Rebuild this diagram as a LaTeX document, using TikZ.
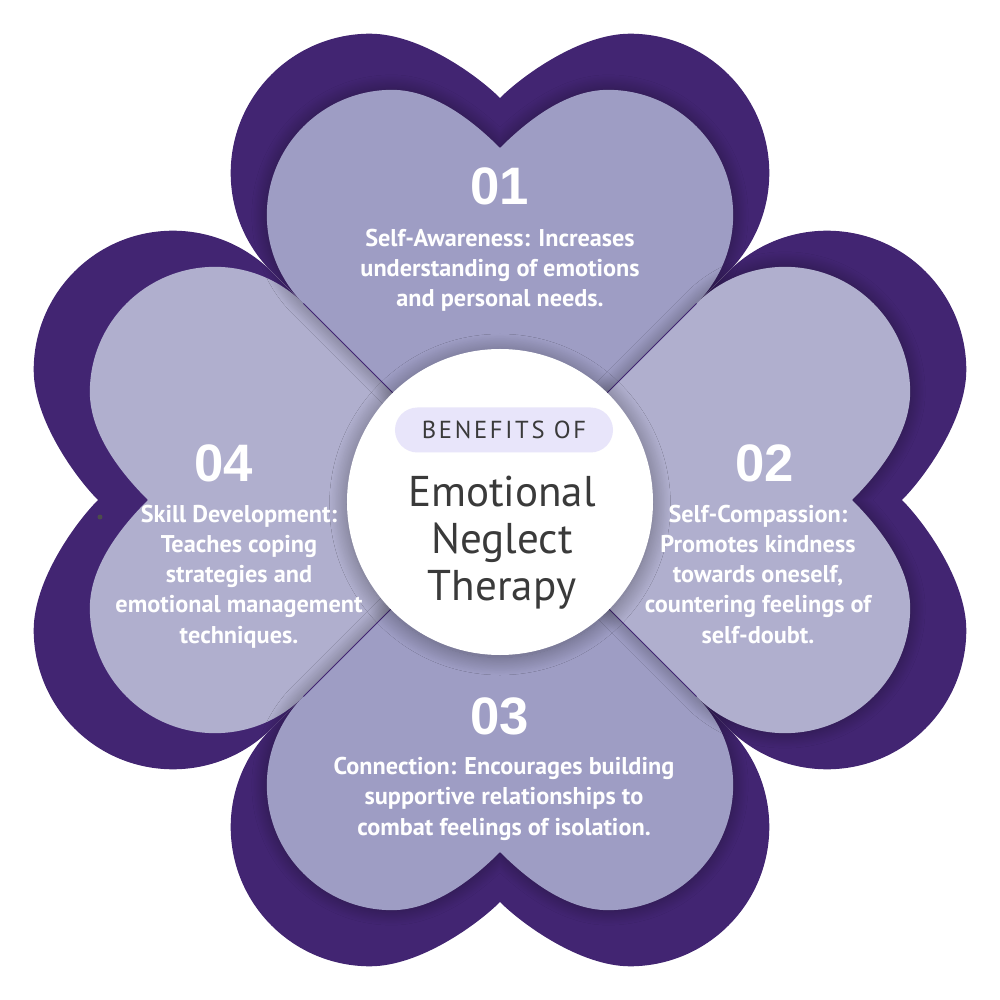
\documentclass[tikz,border=0pt]{standalone}
\usepackage{fontspec}
\setmainfont{PT Sans}
\newfontfamily\numfont{Liberation Sans}
\usetikzlibrary{shadows.blur}

\definecolor{petaldark}{RGB}{66,37,114}
\definecolor{petalmid}{RGB}{158,157,196}
\definecolor{petallight}{RGB}{176,175,206}
\definecolor{pillfill}{RGB}{232,229,250}
\definecolor{coretext}{RGB}{58,58,58}

% heart with its tip at the origin: lobe offset, lobe height, cleft, handle
\newcommand{\heartshape}[4]{%
  (0,0) -- ({-(#1+#2)/2},{(#1+#2)/2})
  arc[start angle=225, end angle=90, radius={(#2-#1)/sqrt(2)}]
  .. controls +(#4,0) and +(-22,22) .. (0,#3)
  .. controls +(22,22) and +(-#4,0) .. (#1,{#2+(#2-#1)/sqrt(2)})
  arc[start angle=90, end angle=-45, radius={(#2-#1)/sqrt(2)}]
  -- cycle}

\tikzstyle{outer} = [fill=petaldark]
\tikzstyle{dropshadow} = [blur shadow={shadow xshift=0pt, shadow yshift=0pt, shadow blur radius=3mm, shadow blur steps=20, shadow opacity=40}]
\tikzstyle{numlabel} = [text=white, inner sep=0pt, font=\numfont\bfseries\fontsize{30}{30}\selectfont]
\tikzstyle{petaltext} = [text=white, inner sep=0pt, align=center, anchor=base, font=\bfseries\fontsize{13.8}{17.1}\selectfont]

\begin{document}
\begin{tikzpicture}[x=0.2mm, y=0.2mm]
    \useasboundingbox (-500,-500) rectangle (500,500);

    % dark backing hearts
    \foreach \ang in {0,-90,180,90}
        \fill[outer, rotate=\ang] \heartshape{130}{327}{402}{50};

    % light petals
    \fill[fill=petallight, rotate=90] \heartshape{108}{285}{352}{45};
    \fill[fill=petalmid, dropshadow] \heartshape{108}{285}{352}{45};
    \fill[fill=petalmid, dropshadow, rotate=180] \heartshape{108}{285}{352}{45};
    \fill[fill=petallight, dropshadow, rotate=-90] \heartshape{108}{285}{352}{45};

    \foreach \ang in {45,135,225,315}
        \draw[petaldark, line width=0.5pt] (0,0) -- (\ang:278);

    % centre
    \node (core) [circle, fill=white, minimum size=61.2mm, inner sep=0pt,
        blur shadow={shadow xshift=0pt, shadow yshift=-0.5mm, shadow scale=1, shadow blur radius=3.5mm, shadow blur steps=30, shadow opacity=40}] at (0,-2) {};
    \node (pill) [rectangle, rounded corners=4.5mm, fill=pillfill, minimum width=43.6mm, minimum height=9mm, inner sep=0pt,
        text=coretext, font=\fontsize{14}{14}\selectfont\addfontfeatures{LetterSpace=11}] at (4,70) {BENEFITS OF};
    \node (title) [anchor=base, align=center, inner sep=0pt, text=coretext,
        font=\fontsize{24.5}{26.7}\selectfont] at (2,-100) {Emotional\\Neglect\\Therapy};

    % petal labels
    \node (num1) [numlabel] at (0,314) {01};
    \node (txt1) [petaltext] at (0,193) {Self-Awareness: Increases\\understanding of emotions\\and personal needs.};
    \node (num2) [numlabel] at (265,37) {02};
    \node (txt2) [petaltext] at (258,-143) {Self-Compassion:\\Promotes kindness\\towards oneself,\\countering feelings of\\self-doubt.};
    \node (num3) [numlabel] at (0,-216) {03};
    \node (txt3) [petaltext] at (4,-335) {Connection: Encourages building\\supportive relationships to\\combat feelings of isolation.};
    \node (num4) [numlabel] at (-276,37) {04};
    \node (txt4) [petaltext] at (-261,-143) {Skill Development:\\Teaches coping\\strategies and\\emotional management\\techniques.};

    \fill[gray!60!black] (-400,-17) circle[radius=2.5];
\end{tikzpicture}
\end{document}
